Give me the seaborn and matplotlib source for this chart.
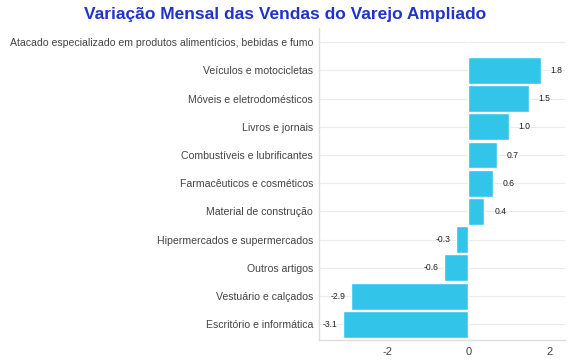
import matplotlib
matplotlib.use("Agg")
import matplotlib.pyplot as plt
import seaborn as sns
import pandas as pd

categories = [
    "Atacado especializado em produtos alimentícios, bebidas e fumo",
    "Veículos e motocicletas",
    "Móveis e eletrodomésticos",
    "Livros e jornais",
    "Combustíveis e lubrificantes",
    "Farmacêuticos e cosméticos",
    "Material de construção",
    "Hipermercados e supermercados",
    "Outros artigos",
    "Vestuário e calçados",
    "Escritório e informática",
]
values = [0.0, 1.8, 1.5, 1.0, 0.7, 0.6, 0.4, -0.3, -0.6, -2.9, -3.1]
labels = ["", "1.8", "1.5", "1.0", "0.7", "0.6", "0.4", "-0.3", "-0.6", "-2.9", "-3.1"]
xticks = [-2, 0, 2]

sns.set_theme(style="white")
plt.rcParams['font.family'] = ['Liberation Sans', 'DejaVu Sans']

df = pd.DataFrame({"cat": categories, "val": values})

fig = plt.figure(figsize=(5.7, 3.6), dpi=100)
ax = fig.add_axes([0.56, 0.056, 0.432, 0.866])

sns.barplot(data=df, x="val", y="cat", orient="h", color="#33C4EA",
            saturation=1, edgecolor="white", linewidth=1.0, width=0.95, ax=ax)

for i, (v, lab) in enumerate(zip(values, labels)):
    if not lab:
        continue
    if v >= 0:
        ax.annotate(lab, (v, i), xytext=(7, 0), textcoords="offset points",
                    ha="left", va="center", fontsize=6.2, color="#222222")
    else:
        ax.annotate(lab, (v, i), xytext=(-4, 0), textcoords="offset points",
                    ha="right", va="center", fontsize=6.2, color="#222222")

ax.set_xlim(-3.68, 2.4)
ax.set_ylim(10.55, -0.5)
ax.set_xticks(xticks)
ax.set_xticklabels([str(t) for t in xticks])
ax.set_xlabel("")
ax.set_ylabel("")
ax.grid(axis="y", color="#ebebeb", linewidth=0.8)
ax.grid(axis="x", visible=False)
ax.set_axisbelow(True)
for s in ["top", "right"]:
    ax.spines[s].set_visible(False)
for s in ["left", "bottom"]:
    ax.spines[s].set_color("#dddddd")
    ax.spines[s].set_linewidth(1.0)
ax.tick_params(axis="y", labelsize=7.6, labelcolor="#444444", length=0, pad=4.5)
ax.tick_params(axis="x", labelsize=8, labelcolor="#444444", length=0, pad=5)

fig.suptitle("Variação Mensal das Vendas do Varejo Ampliado", x=0.5, y=0.98,
             fontsize=12.5, fontweight="bold", color="#2233CC", va="top")

fig.savefig("out.png", dpi=100)
